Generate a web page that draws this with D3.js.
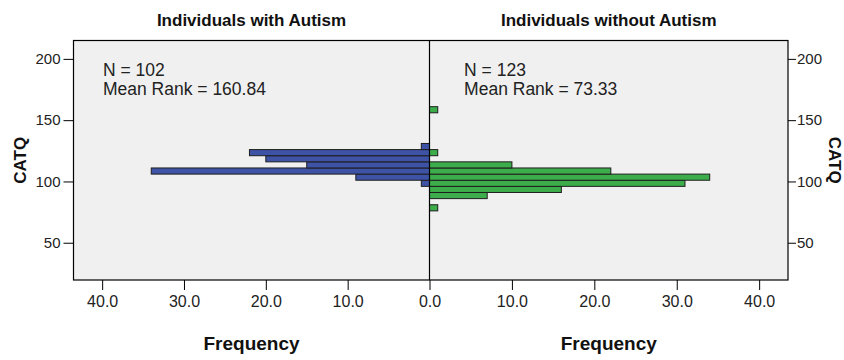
<!DOCTYPE html>
<html>
<head>
<meta charset="utf-8">
<script src="https://cdn.jsdelivr.net/npm/d3@7"></script>
<style>
  html, body { margin: 0; padding: 0; background: #ffffff; }
  svg { display: block; font-family: "Liberation Sans", Arial, sans-serif; }
</style>
</head>
<body>
<svg id="chart" width="844" height="360"></svg>
<script>
// CATQ score bins (lower edge of each 5-point bin)
const binStarts = [76, 81, 86, 91, 96, 101, 106, 111, 116, 121, 126, 131, 136, 141, 146, 151, 156];
const binWidth = 5;
// Frequencies per bin
const autismCounts    = [0, 0, 0, 0, 1, 9, 34, 15, 20, 22, 1, 0, 0, 0, 0, 0, 0];
const nonAutismCounts = [1, 0, 7, 16, 31, 34, 22, 10, 0, 1, 0, 0, 0, 0, 0, 0, 1];

const panelTitles = ["Individuals with Autism", "Individuals without Autism"];
const panelN = [102, 123];
const meanRanks = ["160.84", "73.33"];
const yTicks = [50, 100, 150, 200];
const xTicks = [0, 10, 20, 30, 40];

const svg = d3.select("#chart");

const plotLeft = 73.5, plotCenter = 429.5, plotRight = 788;
const plotTop = 40.5, plotBottom = 280;

const y = d3.scaleLinear().domain([19.6, 215]).range([plotBottom, plotTop]);
const xL = d3.scaleLinear().domain([0, 43.5]).range([plotCenter, plotLeft]);
const xR = d3.scaleLinear().domain([0, 43.5]).range([plotCenter, plotRight]);

// plot background
svg.append("rect")
  .attr("x", plotLeft).attr("y", plotTop)
  .attr("width", plotRight - plotLeft).attr("height", plotBottom - plotTop)
  .attr("fill", "#f0f0f0");

const bins = binStarts.map((s, i) => ({ start: s, a: autismCounts[i], n: nonAutismCounts[i] }));

// left pyramid half
svg.append("g").selectAll("rect")
  .data(bins.filter(d => d.a > 0))
  .join("rect")
  .attr("x", d => xL(d.a))
  .attr("y", d => y(d.start + binWidth))
  .attr("width", d => xL(0) - xL(d.a))
  .attr("height", d => y(d.start) - y(d.start + binWidth))
  .attr("fill", "#3e53a6")
  .attr("stroke", "#1e1e1e")
  .attr("stroke-width", 1);

// right pyramid half
svg.append("g").selectAll("rect")
  .data(bins.filter(d => d.n > 0))
  .join("rect")
  .attr("x", xR(0))
  .attr("y", d => y(d.start + binWidth))
  .attr("width", d => xR(d.n) - xR(0))
  .attr("height", d => y(d.start) - y(d.start + binWidth))
  .attr("fill", "#3cad4a")
  .attr("stroke", "#1e1e1e")
  .attr("stroke-width", 1);

// frame and divider
svg.append("rect")
  .attr("x", plotLeft).attr("y", plotTop)
  .attr("width", plotRight - plotLeft).attr("height", plotBottom - plotTop)
  .attr("fill", "none").attr("stroke", "#000").attr("stroke-width", 1.2);
svg.append("line")
  .attr("x1", plotCenter).attr("x2", plotCenter)
  .attr("y1", plotTop).attr("y2", plotBottom)
  .attr("stroke", "#000").attr("stroke-width", 1.2);

// axes
const styleAxis = (g, size) => {
  g.select(".domain").remove();
  g.selectAll(".tick line").attr("stroke", "#000");
  g.selectAll(".tick text").attr("fill", "#222").style("font-size", size);
};

svg.append("g")
  .attr("transform", `translate(${plotLeft},0)`)
  .call(d3.axisLeft(y).tickValues(yTicks).tickSize(10).tickPadding(3).tickFormat(d3.format("d")))
  .call(g => styleAxis(g, "15px"));

svg.append("g")
  .attr("transform", `translate(${plotRight},0)`)
  .call(d3.axisRight(y).tickValues(yTicks).tickSize(8).tickPadding(1).tickFormat(d3.format("d")))
  .call(g => styleAxis(g, "15px"));

svg.append("g")
  .attr("transform", `translate(0,${plotBottom})`)
  .call(d3.axisBottom(xL).tickValues(xTicks.filter(v => v > 0)).tickSize(10).tickPadding(6).tickFormat(d3.format(".1f")))
  .call(g => styleAxis(g, "16px"));

svg.append("g")
  .attr("transform", `translate(0,${plotBottom})`)
  .call(d3.axisBottom(xR).tickValues(xTicks).tickSize(10).tickPadding(6).tickFormat(d3.format(".1f")))
  .call(g => styleAxis(g, "16px"));

// panel titles
const panelCenters = [(plotLeft + plotCenter) / 2, (plotCenter + plotRight) / 2];
svg.append("g").selectAll("text")
  .data(panelTitles)
  .join("text")
  .attr("x", (d, i) => panelCenters[i])
  .attr("y", 26)
  .attr("text-anchor", "middle")
  .style("font-size", "17px")
  .style("font-weight", "bold")
  .attr("fill", "#111")
  .text(d => d);

// x axis titles
svg.append("g").selectAll("text")
  .data(panelCenters)
  .join("text")
  .attr("x", d => d)
  .attr("y", 350)
  .attr("text-anchor", "middle")
  .style("font-size", "19px")
  .style("font-weight", "bold")
  .attr("fill", "#111")
  .text("Frequency");

// y axis titles
svg.append("text")
  .attr("transform", `translate(26,${(plotTop + plotBottom) / 2}) rotate(-90)`)
  .attr("text-anchor", "middle")
  .style("font-size", "17px")
  .style("font-weight", "bold")
  .attr("fill", "#111")
  .text("CATQ");
svg.append("text")
  .attr("transform", `translate(829,${(plotTop + plotBottom) / 2}) rotate(90)`)
  .attr("text-anchor", "middle")
  .style("font-size", "17px")
  .style("font-weight", "bold")
  .attr("fill", "#111")
  .text("CATQ");

// sample size and mean rank per panel
const annX = [xL(39.9), xR(4.2)];
panelN.forEach((n, i) => {
  svg.append("text")
    .attr("x", annX[i]).attr("y", 76)
    .style("font-size", "17.5px").attr("fill", "#222")
    .text(`N = ${n}`);
  svg.append("text")
    .attr("x", annX[i]).attr("y", 95)
    .style("font-size", "17.5px").attr("fill", "#222")
    .text(`Mean Rank = ${meanRanks[i]}`);
});
</script>
</body>
</html>
